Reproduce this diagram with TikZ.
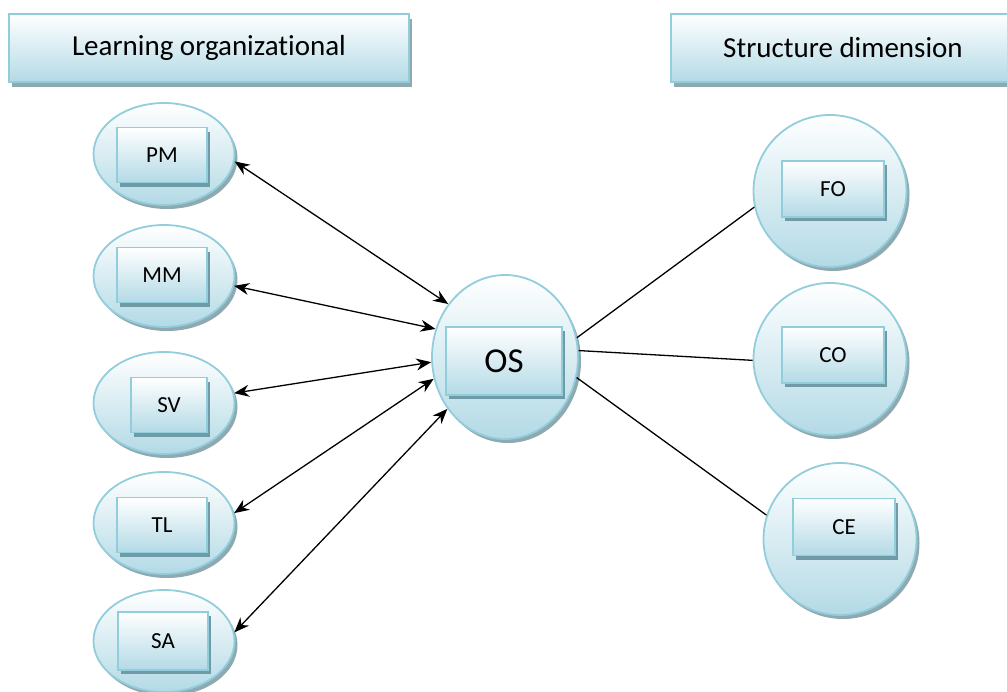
\documentclass[tikz,border=0pt]{standalone}
\usepackage{fontspec}
\setmainfont{Carlito}[RawFeature={-liga;-clig;-calt}]
\usepackage{xcolor}
\usepackage{tikz}
\usetikzlibrary{shapes.geometric, shadows, arrows.meta}
\definecolor{rim}{HTML}{92CDDC}
\definecolor{paleblue}{HTML}{B3DAE6}
\definecolor{shade}{HTML}{8FA9B1}
\definecolor{boxshade}{HTML}{6F9BA6}
\tikzstyle{arrow} = [line width=1.3pt,{Stealth[length=15pt,width=12pt]}-{Stealth[length=15pt,width=12pt]}]
\tikzstyle{link} = [line width=1.3pt]

\begin{document}
\begin{tikzpicture}[
			x=1pt, y=-1pt,
			head/.style={draw=rim, line width=2pt, top color=white, bottom color=paleblue, minimum width=400pt, minimum height=68pt, font=\fontsize{29}{34}\selectfont, drop shadow={shadow xshift=3pt, shadow yshift=-5pt, fill=shade, opacity=1}},
			blob/.style={ellipse, draw=rim, line width=1.8pt, inner sep=0pt, top color=white, bottom color=paleblue, drop shadow={shadow xshift=3pt, shadow yshift=-4pt, fill=shade, opacity=1}},
			tag/.style={rectangle, draw=rim, line width=1.8pt, top color=white, bottom color=paleblue, minimum width=90pt, minimum height=55pt, font=\fontsize{23}{28}\selectfont, drop shadow={shadow xshift=3pt, shadow yshift=-4pt, fill=boxshade, opacity=1}}
			]
			
			\useasboundingbox (0,0) rectangle (1007,691);
			\clip (0,0) rectangle (1007,691);
			
			\node[head] (learn) at (209,48) {Learning organizational};
			\node[head, minimum width=344pt] (struct) at (843,48) {Structure dimension};
			
			\node[blob, minimum width=141pt, minimum height=102pt] (PM) at (164,154) {};
			\node[tag] (PM-box) at (162,155) {PM};
			
			\node[blob, minimum width=141pt, minimum height=102pt] (MM) at (164,276) {};
			\node[tag] (MM-box) at (162,275) {MM};
			
			\node[blob, minimum width=141pt, minimum height=102pt] (SV) at (164,403) {};
			\node[tag, minimum width=76pt] (SV-box) at (169,405) {SV};
			
			\node[blob, minimum width=141pt, minimum height=102pt] (TL) at (164,523) {};
			\node[tag] (TL-box) at (162,525) {TL};
			
			\node[blob, minimum width=141pt, minimum height=102pt] (SA) at (164,641) {};
			\node[tag, minimum height=58pt] (SA-box) at (163,641) {SA};
			
			\node[blob, minimum width=146pt, minimum height=164pt] (OS) at (505,357) {};
			\node[tag, minimum width=116pt, minimum height=68pt, font=\fontsize{35}{40}\selectfont] (OS-box) at (504,361) {OS};
			
			\node[blob, minimum width=153pt, minimum height=152pt] (FO) at (830,191) {};
			\node[tag, minimum width=102pt, minimum height=56pt] (FO-box) at (833,189) {FO};
			
			\node[blob, minimum width=153pt, minimum height=152pt] (CO) at (830,359) {};
			\node[tag, minimum width=102pt, minimum height=56pt] (CO-box) at (833,355) {CO};
			
			\node[blob, minimum width=153pt, minimum height=152pt] (CE) at (840,539) {};
			\node[tag, minimum width=102pt, minimum height=57pt] (CE-box) at (844,527) {CE};
			
			\draw[arrow] (PM.-6) -- (OS.137);
			\draw[arrow] (MM.-8) -- (OS.158);
			\draw[arrow] (SV.8) -- (OS.184);
			\draw[arrow] (TL.8) -- (OS.197);
			\draw[arrow] (SA.7) -- (OS.222);
			
			\draw[link] (OS.15) -- (FO.192);
			\draw[link] (OS.5) -- (CO.181);
			\draw[link] (OS.-16) -- (CE.162);
		\end{tikzpicture}
\end{document}
